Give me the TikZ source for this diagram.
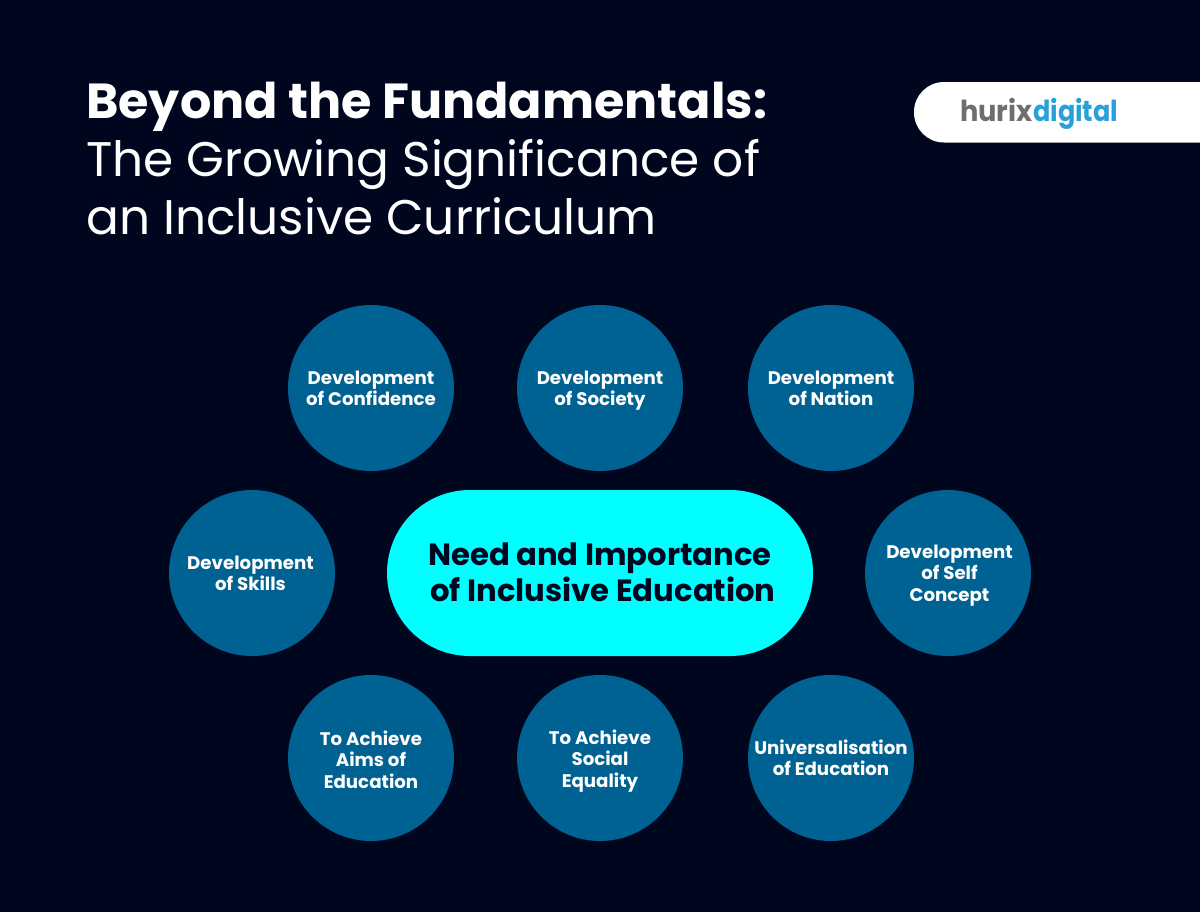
\documentclass[tikz,border=0pt]{standalone}
\usepackage{fontspec}
\setmainfont{Poppins}
\usetikzlibrary{positioning}
\usepackage{xcolor}
\definecolor{bgnavy}{HTML}{01061F}
\definecolor{circblue}{HTML}{006292}
\definecolor{pillcyan}{HTML}{00FFFF}
\definecolor{logogrey}{HTML}{6E6E6E}
\definecolor{logoblue}{HTML}{29A0DA}
\tikzstyle{topic} = [circle, 
minimum size=166bp, 
inner sep=0pt,
align=center, 
text height=35bp,
text depth=0bp,
font=\fontsize{18.2bp}{21.5bp}\selectfont\bfseries,
text=white,
fill=circblue]
\tikzstyle{topiclong} = [topic, text height=60bp]
\tikzstyle{hub} = [rectangle, rounded corners=83bp, 
minimum width=426bp, 
minimum height=166bp,
align=center, 
text height=56bp,
text depth=0bp,
font=\fontsize{30.7bp}{36bp}\selectfont\bfseries,
text=bgnavy,
fill=pillcyan]
\tikzstyle{headline} = [anchor=base west, inner sep=0pt, text=white, font=\fontsize{48.6bp}{58bp}\selectfont]
\tikzstyle{logotext} = [anchor=base west, inner sep=0pt, transform shape, font=\fontsize{29bp}{30bp}\selectfont\bfseries]
\begin{document}
\begin{tikzpicture}[x=1bp, y=-1bp]
		\fill [bgnavy] (0,0) rectangle (1200,912);
		\useasboundingbox (0,0) rectangle (1200,912);
		
		\node (title1) [headline, font=\fontsize{49.2bp}{58bp}\selectfont\bfseries] at (86,118) {Beyond the Fundamentals:};
		\node (title2) [headline] at (86,176) {The Growing Significance of};
		\node (title3) [headline] at (86,234) {an Inclusive Curriculum};
		
		\fill [white, rounded corners=30bp] (914,82) rectangle (1240,142.5);
		\node (logo1) [logotext, xscale=0.94, text=logogrey] at (960,121) {hurix};
		\node (logo2) [logotext, xscale=0.88, text=logoblue] at (1033,121) {digital};
		
		\node (hub) [hub] at (600,573) {Need and Importance\\\hspace{6bp}of Inclusive Education};
		
		\node (conf) [topic] at (371,388) {Development\\of Confidence};
		\node (soc) [topic] at (600,388) {Development\\of Society};
		\node (nat) [topic] at (831,388) {Development\\of Nation};
		\node (skill) [topic] at (252,573) {\hspace{-3bp}Development\\\hspace{-3bp}of Skills};
		\node (self) [topiclong, text height=56bp] at (948,573) {\hspace{3bp}Development\\\hspace{3bp}of Self\\\hspace{3bp}Concept};
		\node (aims) [topiclong] at (371,758) {To Achieve\\Aims of\\Education};
		\node (equal) [topiclong, text height=58bp] at (600,758) {To Achieve\\Social\\Equality};
		\node (univ) [topic] at (831,758) {Universalisation\\of Education};
		
	\end{tikzpicture}
\end{document}
